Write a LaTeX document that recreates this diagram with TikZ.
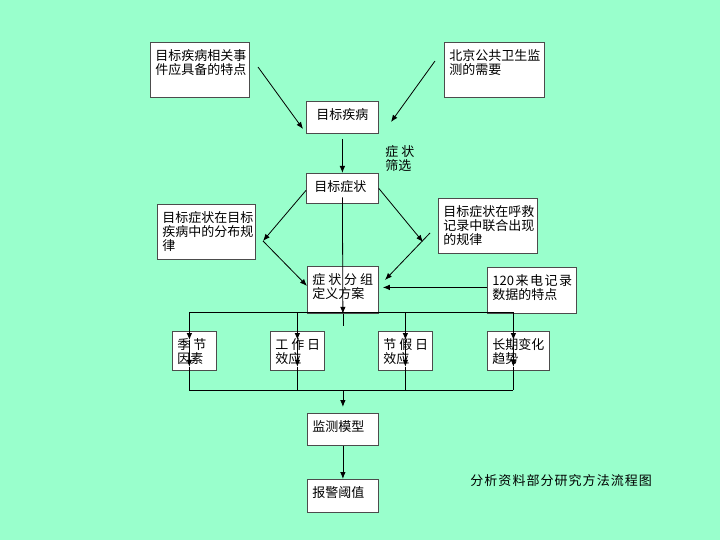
\documentclass[tikz,border=0pt]{standalone}
\usepackage{fontspec}
\newfontfamily\cjk{Noto Sans CJK SC}
\newfontfamily\cjkcap[LetterSpace=8]{Noto Sans CJK SC}
\usepackage{tikz}
\usetikzlibrary{arrows.meta}
\definecolor{mint}{RGB}{153,255,204}
\tikzstyle{bk} = [rectangle, draw=black!70, fill=white, anchor=north west,
    inner sep=5pt, line width=0.8pt]
\newcommand{\bxtext}[3]{\parbox[t][#2pt][t]{#1pt}{\raggedright\rule{0pt}{13.5pt}#3}}

\begin{document}
\begin{tikzpicture}[x=1pt,y=-1pt,>={Latex[length=7pt,width=5.5pt]},
                    line width=0.8pt,font=\cjk\fontsize{13}{14}\selectfont]

  \fill[mint] (0,0) rectangle (720,540);

  \node[bk] (tjxg) at (150,42)  {\bxtext{89}{45}{目标疾病相关事\\件应具备的特点}};
  \node[bk] (bjws) at (444,42)  {\bxtext{90}{45}{北京公共卫生监\\测的需要}};
  \node[bk] (mbjb) at (306,101) {\bxtext{62}{22}{\centering 目标疾病}};
  \node[bk] (mbzz) at (306,173) {\bxtext{62}{20}{\hspace*{3pt}目标症状}};
  \node[bk] (fbgl) at (157,204) {\bxtext{88}{45}{目标症状在目标\\疾病中的分布规\\律}};
  \node[bk] (lhcx) at (438,198) {\bxtext{89}{45}{目标症状在呼救\\记录中联合出现\\的规律}};
  \node[bk] (fzfa) at (307,266) {\bxtext{61}{37}{\mbox{症 状 分 组}\\定义方案}};
  \node[bk] (ldjl) at (487,267) {\bxtext{79}{36}{\mbox{\spaceskip=1.5pt 120 来 电 记 录}\\数据的特点}};
  \node[bk] (jjys) at (172,331) {\bxtext{34}{29}{\mbox{季 节}\\因素}};
  \node[bk] (gzr)  at (270,331) {\bxtext{44}{29}{\mbox{工 作 日}\\效应}};
  \node[bk] (jjr)  at (378,331) {\bxtext{44}{29}{\mbox{节 假 日}\\效应}};
  \node[bk] (cqqs) at (487,331) {\bxtext{52}{29}{长期变化\\趋势}};
  \node[bk] (jcmx) at (307,413) {\bxtext{61}{22}{监测模型}};
  \node[bk] (bjyz) at (307,479) {\bxtext{61}{23}{报警阈值}};

  \node[anchor=north west, inner sep=0pt, align=left] (zzsx) at (385,145) {症 状\\筛选};
  \node[anchor=west, inner sep=0pt, font=\cjkcap\fontsize{13}{14}\selectfont]
       (title) at (470,481) {分析资料部分研究方法流程图};

  % free ends
  \coordinate (a1) at (258,67);
  \coordinate (a2) at (303,129);
  \coordinate (b1) at (435,61);
  \coordinate (b2) at (391,122);
  \coordinate (lp) at (263,241);
  \coordinate (rp) at (423,242);
  \coordinate (r1) at (430,233);
  \coordinate (r2) at (385,280);
  \coordinate (bus)  at (189,312);
  \coordinate (busr) at (513,312);
  \coordinate (sum)  at (189,390);
  \coordinate (sumr) at (513,390);

  \draw[->] (a1) -- (a2);
  \draw[->] (b1) -- (b2);
  \draw[->] ([yshift=-5pt]mbjb.south) -- (mbzz.north);
  \draw[->] ([yshift=-2pt]mbzz.west) -- (lp);
  \draw[->] (lp) -- ([yshift=4pt]fzfa.west);
  \draw[->] (mbzz.east) -- (rp);
  \draw[->] (r1) -- (r2);
  \draw[->,shorten >=4pt] ([yshift=3pt]ldjl.west) -- ([yshift=3pt]ldjl.west -| fzfa.east);
  \draw[->] ([yshift=-9pt]mbzz.center) -- (fzfa.south);
  \draw (fzfa.south) -- ++(0,12);

  % group bus and the four factors
  \draw (bus) -- (busr);
  \draw (sum) -- (sumr);
  \foreach \n/\dx in {jjys/-5,gzr/0,jjr/0,cqqs/-5}{
    \coordinate (t) at ([xshift=\dx pt,yshift=-9pt]\n.north);
    \coordinate (u) at ([xshift=\dx pt,yshift=4pt]\n.south);
    \draw[->] (t |- bus) -- (t);
    \draw[->] (t) -- (u);
    \draw (u) -- (u |- sum);
  }

  \draw[->,shorten >=6pt] (sum -| jcmx.north) -- (jcmx.north);
  \draw[->] (jcmx.south) -- (bjyz.north);
\end{tikzpicture}
\end{document}
